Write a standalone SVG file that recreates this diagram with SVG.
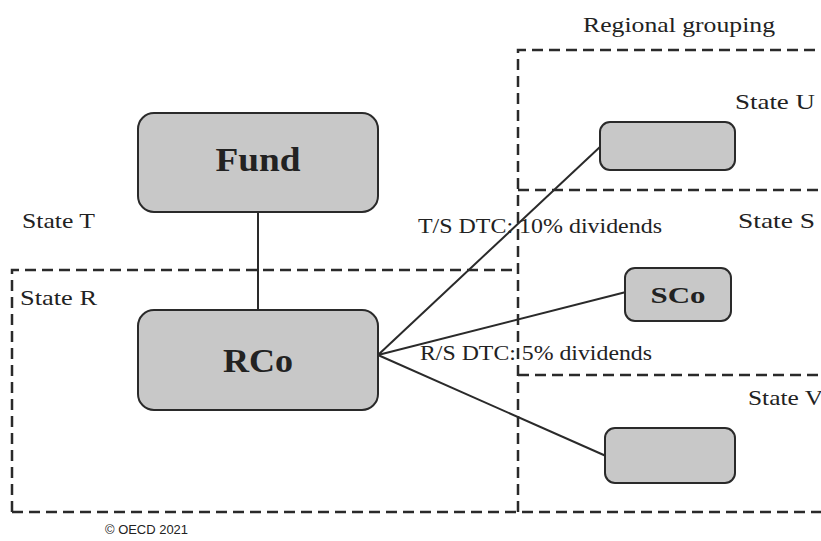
<svg xmlns="http://www.w3.org/2000/svg" width="821" height="541" viewBox="0 0 821 541">
<style>
.bg{fill:#ffffff}
.box{fill:#c8c8c8;stroke:#2a2a2a;stroke-width:2}
.dash{fill:none;stroke:#2a2a2a;stroke-width:2.5;stroke-dasharray:11 6}
.conn{stroke:#2a2a2a;stroke-width:2;fill:none}
.lbl{font-family:"Liberation Serif","Times New Roman",serif;font-size:22px;fill:#222}
.big{font-family:"Liberation Serif","Times New Roman",serif;font-size:33px;font-weight:bold;fill:#222;text-anchor:middle}
.mid{font-family:"Liberation Serif","Times New Roman",serif;font-size:23px;font-weight:bold;fill:#222;text-anchor:middle}
.copy{font-family:"Liberation Sans",Arial,sans-serif;font-size:13px;fill:#222}
</style>
<rect class="bg" x="0" y="0" width="821" height="541"/>
<g id="regions">
<path class="dash" d="M12 512 L12 270 L518 270"/>
<path class="dash" d="M12 512 L821 512"/>
<path class="dash" d="M518 512 L518 50 L821 50"/>
<path class="dash" d="M518 190 L821 190"/>
<path class="dash" d="M518 375 L821 375"/>
</g>
<g id="connectors">
<line class="conn" x1="258" y1="212" x2="258" y2="310"/>
<line class="conn" x1="378" y1="355" x2="601" y2="146"/>
<line class="conn" x1="378" y1="355" x2="626" y2="292"/>
<line class="conn" x1="378" y1="355" x2="606" y2="456"/>
</g>
<g id="fund">
<rect class="box" x="138" y="113" width="240" height="99" rx="16"/>
<text class="big" x="258" y="171" textLength="85" lengthAdjust="spacingAndGlyphs">Fund</text>
</g>
<g id="rco">
<rect class="box" x="138" y="310" width="240" height="100" rx="16"/>
<text class="big" x="258" y="372" textLength="70" lengthAdjust="spacingAndGlyphs">RCo</text>
</g>
<g id="stateu-co">
<rect class="box" x="600" y="122" width="135" height="48" rx="10"/>
</g>
<g id="sco">
<rect class="box" x="625" y="268" width="106" height="53" rx="10"/>
<text class="mid" x="678" y="303" textLength="55" lengthAdjust="spacingAndGlyphs">SCo</text>
</g>
<g id="statev-co">
<rect class="box" x="605" y="428" width="130" height="55" rx="10"/>
</g>
<g id="labels">
<text class="lbl" x="583" y="32" textLength="192" lengthAdjust="spacingAndGlyphs">Regional grouping</text>
<text class="lbl" x="735" y="109" textLength="80" lengthAdjust="spacingAndGlyphs">State U</text>
<text class="lbl" x="738" y="228" textLength="77" lengthAdjust="spacingAndGlyphs">State S</text>
<text class="lbl" x="748" y="405" textLength="75" lengthAdjust="spacingAndGlyphs">State V</text>
<text class="lbl" x="22" y="228" textLength="73" lengthAdjust="spacingAndGlyphs">State T</text>
<text class="lbl" x="20" y="305" textLength="77" lengthAdjust="spacingAndGlyphs">State R</text>
<text class="lbl" x="418" y="233" textLength="244" lengthAdjust="spacingAndGlyphs">T/S DTC: 10% dividends</text>
<text class="lbl" x="420" y="360" textLength="232" lengthAdjust="spacingAndGlyphs">R/S DTC: 5% dividends</text>
<text class="copy" x="105" y="534" textLength="83" lengthAdjust="spacingAndGlyphs">© OECD 2021</text>
</g>
</svg>
